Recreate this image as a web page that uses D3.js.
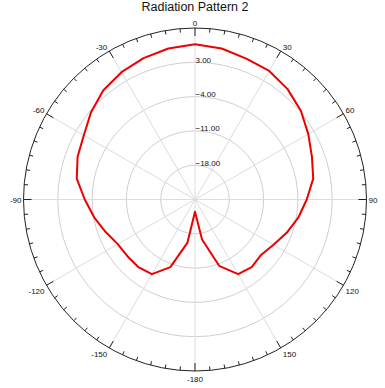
<!DOCTYPE html>
<html>
<head>
<meta charset="utf-8">
<script src="https://cdn.jsdelivr.net/npm/d3@7"></script>
<style>
  html, body { margin: 0; padding: 0; background: #fff; }
  svg { display: block; font-family: "Liberation Sans", Arial, sans-serif; }
</style>
</head>
<body>
<svg id="chart" width="385" height="388"></svg>
<script>
// ---- Data ----
const title = "Radiation Pattern 2";
const angles = [-180, -170, -160, -150, -140, -130, -120, -110, -100, -90, -80, -70, -60, -50, -40, -30, -20, -10,
                0, 10, 20, 30, 40, 50, 60, 70, 80, 90, 100, 110, 120, 130, 140, 150, 160, 170];
const gainDb = [-22.5, -16.0, -10.3, -7.4, -7.0, -7.0, -6.8, -5.6, -4.1, -2.5, -0.5, 0.5, 1.2, 2.7, 4.1, 5.0, 5.7, 6.3,
                6.7, 6.3, 5.6, 5.3, 4.4, 3.2, 1.7, 0.4, -0.5, -2.2, -3.6, -5.1, -6.5, -7.4, -7.0, -7.4, -10.6, -16.7];
const ringValues = [-18, -11, -4, 3];
const radialDomain = [-25, 10];
const angleTickLabels = [0, 30, 60, 90, 120, 150, -180, -150, -120, -90, -60, -30];

// ---- Layout ----
const cx = 195, cy = 199.5, R = 171.5;
const svg = d3.select("#chart");
const r = d3.scaleLinear().domain(radialDomain).range([0, R]);
const rad = d => d * Math.PI / 180;

svg.append("text")
  .attr("x", 195).attr("y", 11)
  .attr("text-anchor", "middle")
  .attr("font-size", "12.5px").attr("fill", "#111")
  .text(title);

const g = svg.append("g").attr("transform", `translate(${cx},${cy})`);

// grid rings
g.selectAll("circle.ring").data(ringValues).enter().append("circle")
  .attr("r", d => r(d)).attr("fill", "none")
  .attr("stroke", "#cfcfcf").attr("stroke-width", 1);

// spokes
g.selectAll("line.spoke").data(d3.range(0, 360, 30)).enter().append("line")
  .attr("x1", 0).attr("y1", 0)
  .attr("x2", d => R * Math.sin(rad(d))).attr("y2", d => -R * Math.cos(rad(d)))
  .attr("stroke", "#dcdcdc").attr("stroke-width", 1);

// outer circle
g.append("circle").attr("r", R).attr("fill", "none").attr("stroke", "#222").attr("stroke-width", 1);

// ticks
g.selectAll("line.tick").data(d3.range(0, 360, 5)).enter().append("line")
  .attr("x1", d => R * Math.sin(rad(d))).attr("y1", d => -R * Math.cos(rad(d)))
  .attr("x2", d => (R - (d % 30 === 0 ? 8 : 4)) * Math.sin(rad(d)))
  .attr("y2", d => -(R - (d % 30 === 0 ? 8 : 4)) * Math.cos(rad(d)))
  .attr("stroke", "#222").attr("stroke-width", 1);

// angle labels
g.selectAll("text.alab").data(angleTickLabels).enter().append("text")
  .attr("font-size", "8px").attr("fill", "#111")
  .each(function(d) {
    const s = Math.sin(rad(d)), c = Math.cos(rad(d));
    const px = R * s, py = -R * c;
    let anchor = "middle", x = px, y;
    if (Math.abs(s) > 0.01) { anchor = s > 0 ? "start" : "end"; x = px + (s > 0 ? 2 : -2); }
    if (Math.abs(s) < 0.01) y = c > 0 ? py - 2.5 : py + 10.5;
    else if (c > 0.01) y = py - 1;
    else if (c < -0.01) y = py + 9;
    else y = py + 3;
    d3.select(this).attr("x", x).attr("y", y).attr("text-anchor", anchor).text(d);
  });

// radial labels
const fmt = d3.format(".2f");
g.selectAll("text.rlab").data(ringValues).enter().append("text")
  .attr("x", 0.5).attr("y", d => -r(d) + 0.5)
  .attr("font-size", "8px").attr("fill", "#111")
  .text(d => fmt(d));

// pattern line
const pts = angles.map((a, i) => [rad(a), r(gainDb[i])]);
const line = d3.lineRadial().angle(d => d[0]).radius(d => d[1]).curve(d3.curveLinearClosed);
g.append("path").attr("d", line(pts))
  .attr("fill", "none").attr("stroke", "#ee0000").attr("stroke-width", 2)
  .attr("stroke-linejoin", "round");
</script>
</body>
</html>
